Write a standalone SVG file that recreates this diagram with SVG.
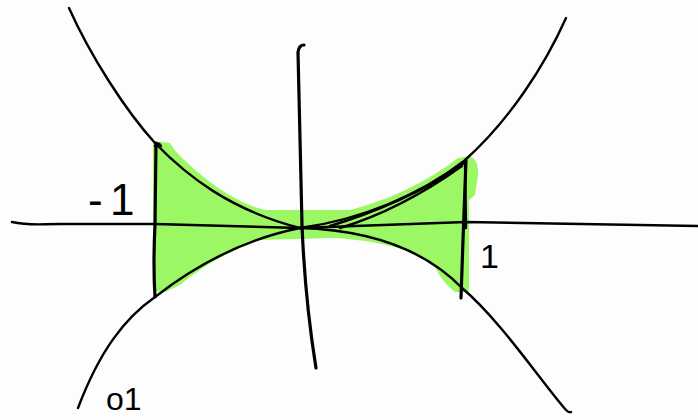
<svg xmlns="http://www.w3.org/2000/svg" width="698" height="420" viewBox="0 0 698 420">
<style>
.ink{fill:none;stroke:#000;stroke-width:2.4;stroke-linecap:round;stroke-linejoin:round}
.thick{stroke-width:3.2}
.lbl{font-family:"Liberation Sans",Arial,sans-serif;fill:#000}
</style>
<rect width="698" height="420" fill="#fdfdfd"/>
<g id="shading">
<path fill="#9cf764" d="M153,141 L170,143 Q174,150 180,156 C205,180 235,203 265,210 L350,210 C390,200 430,180 458,158 L470,156 Q479,160 478,175 L475,195 L469,200 L469,292 L455,292 L447,285 L440,276 L432,262 C410,250 380,240 330,238 L260,240 C230,250 200,268 180,285 L165,292 L153,291 Z"/>
</g>
<g id="axes">
<path class="ink" d="M12,222 C30,226 40,224 60,224 L155,224 Q230,226 300,228 L466,222 Q580,224 698,226"/>
<path class="ink thick" d="M304,45 Q299,45 298,52 L302,225 Q305,300 316,368"/>
</g>
<g id="curves">
<path class="ink" d="M69,8 C90,55 125,110 155,143 C187,176 230,210 300,228"/>
<path class="ink" d="M566,18 C545,65 510,120 464,161 C420,195 360,220 300,228"/>
<path class="ink" d="M464,163 C425,192 370,214 330,226"/>
<path class="ink" d="M462,166 C420,196 380,216 340,228"/>
<path class="ink" d="M78,408 C100,350 125,318 155,297 C200,262 250,238 300,228"/>
<path class="ink" d="M300,228 C370,230 425,250 462,288 C500,320 540,380 566,410 Q569,413 571,412"/>
</g>
<g id="bounds">
<path class="ink thick" d="M156,143 L155,225 Q153,265 155,297"/>
<path class="ink" d="M155,146 q3,-5 6,0"/>
<path class="ink" stroke-width="5" fill="none" stroke="#000" d="M465,161 L466,228"/>
<path class="ink thick" d="M466,160 L463,240 L461,298"/>
</g>
<g id="labels">
<text class="lbl" x="88" y="215" font-size="44">-<tspan x="110">1</tspan></text>
<text class="lbl" x="480" y="268" font-size="34">1</text>
<text class="lbl" x="106" y="410" font-size="32">o1</text>
</g>
</svg>
